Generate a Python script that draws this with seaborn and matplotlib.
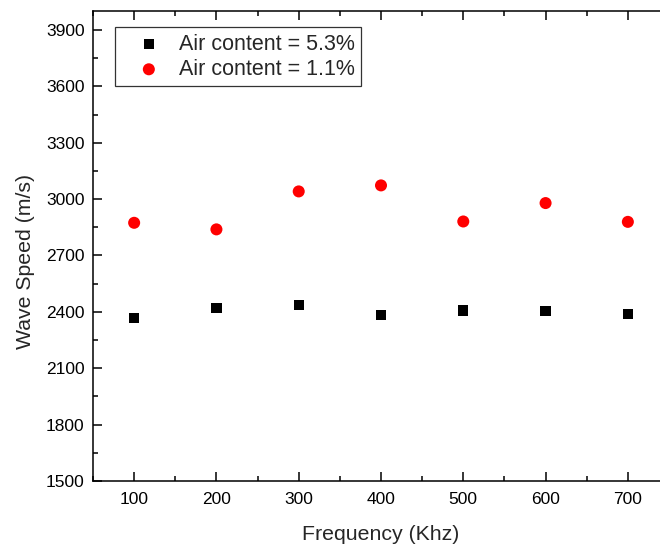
import matplotlib
matplotlib.use("Agg")
import matplotlib.pyplot as plt
import seaborn as sns
import pandas as pd
from matplotlib.ticker import MultipleLocator

frequency = [100, 200, 300, 400, 500, 600, 700]
speed_53 = [2368, 2421, 2437, 2382, 2407, 2404, 2388]
speed_11 = [2874, 2839, 3041, 3073, 2881, 2979, 2879]
label_53 = "Air content = 5.3%"
label_11 = "Air content = 1.1%"

sns.set_theme(style="ticks")
plt.rcParams['font.family'] = ['Liberation Sans', 'DejaVu Sans']

df53 = pd.DataFrame({"f": frequency, "v": speed_53})
df11 = pd.DataFrame({"f": frequency, "v": speed_11})

W, H = 660, 544
fig = plt.figure(figsize=(W / 100, H / 100), dpi=100)
ax = fig.add_axes([93 / W, (H - 481) / H, (669 - 93) / W, (481 - 11.2) / H])

sns.scatterplot(data=df53, x="f", y="v", marker="s", color="black", s=55,
                edgecolor="none", ax=ax, label=label_53)
sns.scatterplot(data=df11, x="f", y="v", marker="o", color="red", s=75,
                edgecolor="none", ax=ax, label=label_11)

ax.set_xlim(50, 750)
ax.set_ylim(1500, 4000)
ax.xaxis.set_major_locator(MultipleLocator(100))
ax.xaxis.set_minor_locator(MultipleLocator(50))
ax.yaxis.set_major_locator(MultipleLocator(300))
ax.yaxis.set_minor_locator(MultipleLocator(150))
ax.set_yticks([1500, 1800, 2100, 2400, 2700, 3000, 3300, 3600, 3900])
ax.tick_params(which="both", direction="in", top=True, right=True, width=1.1,
               colors="black", labelsize=12.5)
ax.tick_params(which="major", length=6.5)
ax.tick_params(axis="x", which="major", pad=8)
ax.tick_params(axis="y", which="major", pad=6)
ax.tick_params(which="minor", length=3.4)
for sp in ax.spines.values():
    sp.set_linewidth(1.1)
    sp.set_color("black")

ax.set_xlabel("Frequency (Khz)", fontsize=15.3, labelpad=13)
ax.set_ylabel("Wave Speed (m/s)", fontsize=15.3, labelpad=8)
ax.yaxis.label.set_y(0.468)

leg = ax.legend(loc="upper left", bbox_to_anchor=(0.039, 0.966), borderaxespad=0,
                fontsize=15.5, frameon=True, fancybox=False, edgecolor="black",
                handletextpad=0.15, borderpad=0.3, labelspacing=0.2, handlelength=2.5)
leg.get_frame().set_linewidth(0.9)

fig.savefig("out.png", dpi=100)
